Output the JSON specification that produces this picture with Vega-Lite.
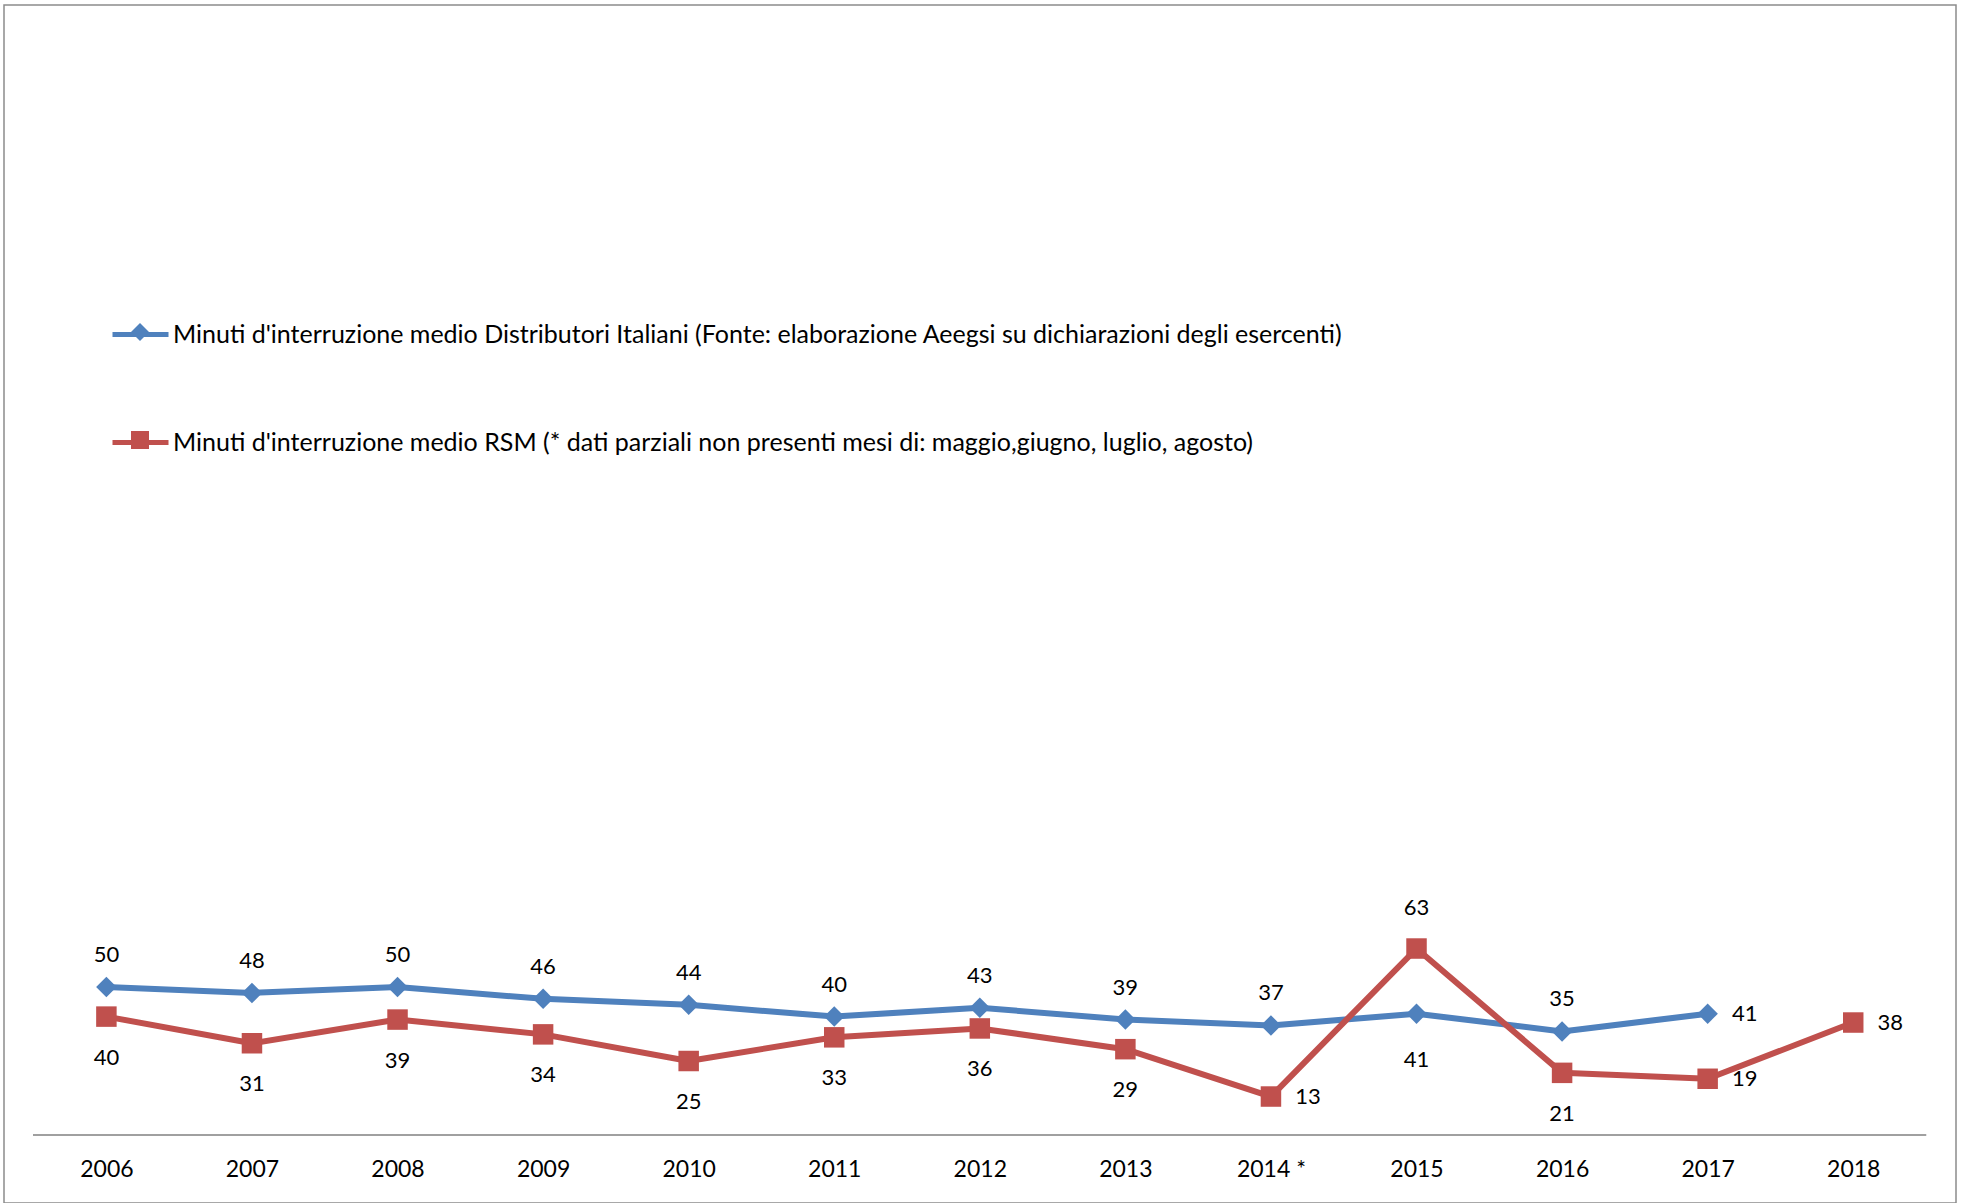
{
  "$schema": "https://vega.github.io/schema/vega-lite/v6.json",
  "width": 1952,
  "height": 1198,
  "autosize": "none",
  "padding": {"left": 4, "top": 5, "right": 6, "bottom": 0},
  "background": "white",
  "config": {"view": {"stroke": "#8C8C8C", "strokeWidth": 1.5}, "font": "Lato"},
  "resolve": {"legend": {"color": "independent", "shape": "independent"}},
  "data": {
    "values": [
      {"anno": 2006, "serie": "Minuti d'interruzione medio Distributori Italiani (Fonte: elaborazione Aeegsi su dichiarazioni degli esercenti)", "valore": 50},
      {"anno": 2007, "serie": "Minuti d'interruzione medio Distributori Italiani (Fonte: elaborazione Aeegsi su dichiarazioni degli esercenti)", "valore": 48},
      {"anno": 2008, "serie": "Minuti d'interruzione medio Distributori Italiani (Fonte: elaborazione Aeegsi su dichiarazioni degli esercenti)", "valore": 50},
      {"anno": 2009, "serie": "Minuti d'interruzione medio Distributori Italiani (Fonte: elaborazione Aeegsi su dichiarazioni degli esercenti)", "valore": 46},
      {"anno": 2010, "serie": "Minuti d'interruzione medio Distributori Italiani (Fonte: elaborazione Aeegsi su dichiarazioni degli esercenti)", "valore": 44},
      {"anno": 2011, "serie": "Minuti d'interruzione medio Distributori Italiani (Fonte: elaborazione Aeegsi su dichiarazioni degli esercenti)", "valore": 40},
      {"anno": 2012, "serie": "Minuti d'interruzione medio Distributori Italiani (Fonte: elaborazione Aeegsi su dichiarazioni degli esercenti)", "valore": 43},
      {"anno": 2013, "serie": "Minuti d'interruzione medio Distributori Italiani (Fonte: elaborazione Aeegsi su dichiarazioni degli esercenti)", "valore": 39},
      {"anno": 2014, "serie": "Minuti d'interruzione medio Distributori Italiani (Fonte: elaborazione Aeegsi su dichiarazioni degli esercenti)", "valore": 37},
      {"anno": 2015, "serie": "Minuti d'interruzione medio Distributori Italiani (Fonte: elaborazione Aeegsi su dichiarazioni degli esercenti)", "valore": 41},
      {"anno": 2016, "serie": "Minuti d'interruzione medio Distributori Italiani (Fonte: elaborazione Aeegsi su dichiarazioni degli esercenti)", "valore": 35},
      {"anno": 2017, "serie": "Minuti d'interruzione medio Distributori Italiani (Fonte: elaborazione Aeegsi su dichiarazioni degli esercenti)", "valore": 41},
      {"anno": 2006, "serie": "Minuti d'interruzione medio RSM (* dati parziali non presenti mesi di: maggio,giugno, luglio, agosto)", "valore": 40},
      {"anno": 2007, "serie": "Minuti d'interruzione medio RSM (* dati parziali non presenti mesi di: maggio,giugno, luglio, agosto)", "valore": 31},
      {"anno": 2008, "serie": "Minuti d'interruzione medio RSM (* dati parziali non presenti mesi di: maggio,giugno, luglio, agosto)", "valore": 39},
      {"anno": 2009, "serie": "Minuti d'interruzione medio RSM (* dati parziali non presenti mesi di: maggio,giugno, luglio, agosto)", "valore": 34},
      {"anno": 2010, "serie": "Minuti d'interruzione medio RSM (* dati parziali non presenti mesi di: maggio,giugno, luglio, agosto)", "valore": 25},
      {"anno": 2011, "serie": "Minuti d'interruzione medio RSM (* dati parziali non presenti mesi di: maggio,giugno, luglio, agosto)", "valore": 33},
      {"anno": 2012, "serie": "Minuti d'interruzione medio RSM (* dati parziali non presenti mesi di: maggio,giugno, luglio, agosto)", "valore": 36},
      {"anno": 2013, "serie": "Minuti d'interruzione medio RSM (* dati parziali non presenti mesi di: maggio,giugno, luglio, agosto)", "valore": 29},
      {"anno": 2014, "serie": "Minuti d'interruzione medio RSM (* dati parziali non presenti mesi di: maggio,giugno, luglio, agosto)", "valore": 13},
      {"anno": 2015, "serie": "Minuti d'interruzione medio RSM (* dati parziali non presenti mesi di: maggio,giugno, luglio, agosto)", "valore": 63},
      {"anno": 2016, "serie": "Minuti d'interruzione medio RSM (* dati parziali non presenti mesi di: maggio,giugno, luglio, agosto)", "valore": 21},
      {"anno": 2017, "serie": "Minuti d'interruzione medio RSM (* dati parziali non presenti mesi di: maggio,giugno, luglio, agosto)", "valore": 19},
      {"anno": 2018, "serie": "Minuti d'interruzione medio RSM (* dati parziali non presenti mesi di: maggio,giugno, luglio, agosto)", "valore": 38}
    ]
  },
  "encoding": {
    "x": {
      "field": "anno", "type": "quantitative",
      "scale": {"domain": [2005.2966, 2018.706], "nice": false, "zero": false},
      "axis": {
        "values": [2006, 2007, 2008, 2009, 2010, 2011, 2012, 2013, 2014, 2015, 2016, 2017, 2018],
        "labelExpr": "datum.value == 2014 ? '2014 *' : format(datum.value, 'd')",
        "domain": false, "ticks": false, "tickSize": 0, "grid": false,
        "labelFont": "Lato", "labelFontSize": 23, "labelColor": "#000000",
        "labelBaseline": "middle", "labelPadding": 0, "offset": -34,
        "title": null, "labelFlush": false, "labelOverlap": false
      }
    },
    "y": {
      "field": "valore", "type": "quantitative",
      "scale": {"domain": [-22.97, 381.76], "nice": false, "zero": false},
      "axis": null
    }
  },
  "layer": [
    {
      "mark": {"type": "rule", "color": "#A0A0A0", "strokeWidth": 2},
      "encoding": {"x": {"datum": 2005.5}, "x2": {"datum": 2018.5}, "y": {"datum": 0}}
    },
    {
      "mark": {"type": "line", "strokeWidth": 6, "strokeJoin": "round"},
      "encoding": {
        "color": {
          "field": "serie", "type": "nominal",
          "scale": {
            "domain": ["Minuti d'interruzione medio Distributori Italiani (Fonte: elaborazione Aeegsi su dichiarazioni degli esercenti)", "Minuti d'interruzione medio RSM (* dati parziali non presenti mesi di: maggio,giugno, luglio, agosto)"],
            "range": ["#4F81BD", "#C0504D"]
          },
          "legend": {
            "orient": "none", "legendX": 106, "legendY": 299, "title": null, "padding": 0,
            "direction": "vertical", "symbolType": "M-1,0H1", "symbolSize": 3136, "symbolStrokeWidth": 5,
            "labelFont": "Lato", "labelFontSize": 25, "labelColor": "#000000",
            "labelOffset": 2, "rowPadding": 64, "labelLimit": 3000
          }
        }
      }
    },
    {
      "mark": {"type": "point", "filled": true, "opacity": 1, "size": 420},
      "encoding": {
        "color": {
          "field": "serie", "type": "nominal",
          "legend": {
            "orient": "none", "legendX": 127, "legendY": 318, "title": null, "padding": 0,
            "direction": "vertical", "symbolSize": 324, "symbolStrokeWidth": 0, "symbolOpacity": 1,
            "labelExpr": "''", "labelFontSize": 1, "labelOffset": 0, "rowPadding": 90
          }
        },
        "shape": {
          "field": "serie", "type": "nominal",
          "scale": {
            "domain": ["Minuti d'interruzione medio Distributori Italiani (Fonte: elaborazione Aeegsi su dichiarazioni degli esercenti)", "Minuti d'interruzione medio RSM (* dati parziali non presenti mesi di: maggio,giugno, luglio, agosto)"],
            "range": ["diamond", "square"]
          },
          "legend": {
            "orient": "none", "legendX": 127, "legendY": 318, "title": null, "padding": 0,
            "direction": "vertical", "symbolSize": 324, "symbolStrokeWidth": 0, "symbolOpacity": 1,
            "labelExpr": "''", "labelFontSize": 1, "labelOffset": 0, "rowPadding": 90
          }
        }
      }
    },
    {
      "transform": [{"filter": {"and": [{"field": "serie", "equal": "Minuti d'interruzione medio Distributori Italiani (Fonte: elaborazione Aeegsi su dichiarazioni degli esercenti)"}, {"not": {"field": "anno", "oneOf": [2015, 2017]}}]}}],
      "mark": {"type": "text", "font": "Lato", "fontSize": 22, "fill": "#000000", "baseline": "middle", "align": "center", "dy": -32},
      "encoding": {"text": {"field": "valore", "type": "quantitative"}}
    },
    {
      "transform": [{"filter": {"and": [{"field": "serie", "equal": "Minuti d'interruzione medio Distributori Italiani (Fonte: elaborazione Aeegsi su dichiarazioni degli esercenti)"}, {"field": "anno", "equal": 2015}]}}],
      "mark": {"type": "text", "font": "Lato", "fontSize": 22, "fill": "#000000", "baseline": "middle", "align": "center", "dy": 46},
      "encoding": {"text": {"field": "valore", "type": "quantitative"}}
    },
    {
      "transform": [{"filter": {"and": [{"field": "serie", "equal": "Minuti d'interruzione medio Distributori Italiani (Fonte: elaborazione Aeegsi su dichiarazioni degli esercenti)"}, {"field": "anno", "equal": 2017}]}}],
      "mark": {"type": "text", "font": "Lato", "fontSize": 22, "fill": "#000000", "baseline": "middle", "align": "center", "dx": 37},
      "encoding": {"text": {"field": "valore", "type": "quantitative"}}
    },
    {
      "transform": [{"filter": {"and": [{"field": "serie", "equal": "Minuti d'interruzione medio RSM (* dati parziali non presenti mesi di: maggio,giugno, luglio, agosto)"}, {"not": {"field": "anno", "oneOf": [2014, 2015, 2017, 2018]}}]}}],
      "mark": {"type": "text", "font": "Lato", "fontSize": 22, "fill": "#000000", "baseline": "middle", "align": "center", "dy": 41},
      "encoding": {"text": {"field": "valore", "type": "quantitative"}}
    },
    {
      "transform": [{"filter": {"and": [{"field": "serie", "equal": "Minuti d'interruzione medio RSM (* dati parziali non presenti mesi di: maggio,giugno, luglio, agosto)"}, {"field": "anno", "equal": 2015}]}}],
      "mark": {"type": "text", "font": "Lato", "fontSize": 22, "fill": "#000000", "baseline": "middle", "align": "center", "dy": -41},
      "encoding": {"text": {"field": "valore", "type": "quantitative"}}
    },
    {
      "transform": [{"filter": {"and": [{"field": "serie", "equal": "Minuti d'interruzione medio RSM (* dati parziali non presenti mesi di: maggio,giugno, luglio, agosto)"}, {"field": "anno", "oneOf": [2014, 2017, 2018]}]}}],
      "mark": {"type": "text", "font": "Lato", "fontSize": 22, "fill": "#000000", "baseline": "middle", "align": "center", "dx": 37},
      "encoding": {"text": {"field": "valore", "type": "quantitative"}}
    }
  ]
}
